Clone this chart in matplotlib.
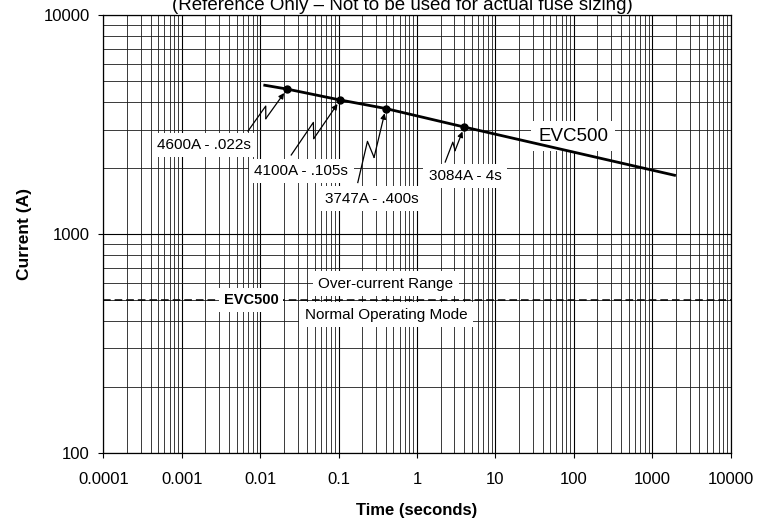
"""
EVC500 time-current curve (log-log), with labelled test points.
"""

import numpy as np
import matplotlib
matplotlib.use("Agg")
import matplotlib.pyplot as plt
from matplotlib.ticker import LogLocator, FixedLocator, FixedFormatter, NullFormatter

plt.rcParams["font.family"] = ["Liberation Sans", "DejaVu Sans"]


# ── Data ──────────────────────────────────────────────────────────────────────

curve_time = [0.011, 0.022, 0.105, 0.400, 4.0, 2000.0]
curve_amps = [4800, 4600, 4100, 3747, 3084, 1850]

point_time   = [0.022, 0.105, 0.400, 4.0]
point_amps   = [4600, 4100, 3747, 3084]
point_labels = ["4600A - .022s", "4100A - .105s", "3747A - .400s", "3084A - 4s"]

rating_amps = 500
rating_name = "EVC500"

x_ticks       = [0.0001, 0.001, 0.01, 0.1, 1, 10, 100, 1000, 10000]
x_tick_labels = ["0.0001", "0.001", "0.01", "0.1", "1", "10", "100", "1000", "10000"]
y_ticks       = [100, 1000, 10000]
y_tick_labels = ["100", "1000", "10000"]


# ── Figure / axes ─────────────────────────────────────────────────────────────

W, H = 772, 522
fig = plt.figure(figsize=(W / 100, H / 100), dpi=100)
ax = fig.add_axes([103.3 / W, 1 - 452.7 / H, 627.4 / W, 437.4 / H])

ax.set_xscale("log")
ax.set_yscale("log")
ax.set_xlim(x_ticks[0], x_ticks[-1])
ax.set_ylim(y_ticks[0], y_ticks[-1])

ax.xaxis.set_major_locator(FixedLocator(x_ticks))
ax.xaxis.set_major_formatter(FixedFormatter(x_tick_labels))
ax.yaxis.set_major_locator(FixedLocator(y_ticks))
ax.yaxis.set_major_formatter(FixedFormatter(y_tick_labels))
for axis in (ax.xaxis, ax.yaxis):
    axis.set_minor_locator(LogLocator(base=10, subs=np.arange(2, 10), numticks=100))
    axis.set_minor_formatter(NullFormatter())

ax.set_axisbelow(True)
ax.grid(which="major", color="black", linewidth=0.8)
ax.grid(which="minor", color="#1a1a1a", linewidth=0.6)

ax.tick_params(which="major", direction="out", length=3.6, width=0.8,
               labelsize=12, color="black")
ax.tick_params(which="minor", length=0)
ax.tick_params(axis="x", pad=10.5)
ax.tick_params(axis="y", pad=6)
for sp in ax.spines.values():
    sp.set_linewidth(0.9)

ax.set_xlabel("Time (seconds)", fontsize=12, fontweight="bold", va="baseline")
ax.xaxis.set_label_coords(0.5, (452.7 - 515) / 437.4)
ax.set_ylabel("Current (A)", fontsize=12.5, fontweight="bold")
ax.yaxis.set_label_coords((32 - 103.3) / 627.4, 0.5)

fig.text(402 / W, 1 - 9.5 / H,
         "(Reference Only \u2013 Not to be used for actual fuse sizing)",
         ha="center", va="baseline", fontsize=13.5)


# ── Rating line ───────────────────────────────────────────────────────────────

ax.axhline(rating_amps, color="black", linewidth=1.1, linestyle=(0, (5, 2.6)), zorder=3)

box = dict(boxstyle="square,pad=0.35", fc="white", ec="none")
yax = ax.get_yaxis_transform()
ax.text(0.2354, rating_amps, rating_name, transform=yax, ha="center", va="center",
        fontsize=10.5, fontweight="bold", bbox=box, zorder=4)
ax.annotate("Over-current Range", xy=(0.4506, rating_amps), xycoords=yax,
            xytext=(0, 16), textcoords="offset pixels", ha="center", va="center",
            fontsize=11, bbox=box, zorder=4)
ax.annotate("Normal Operating Mode", xy=(0.4506, rating_amps), xycoords=yax,
            xytext=(0, -15), textcoords="offset pixels", ha="center", va="center",
            fontsize=11, bbox=box, zorder=4)


# ── Curve and labelled points ─────────────────────────────────────────────────

ax.text(0.7487, 0.724, rating_name, transform=ax.transAxes, ha="center", va="center",
        fontsize=13.5, bbox=box, zorder=4)

ax.plot(curve_time, curve_amps, color="black", linewidth=2.0, zorder=5,
        solid_capstyle="butt")
ax.plot(point_time, point_amps, "o", color="black", markersize=5, zorder=6)

# label centres and squiggle starts, in pixels relative to each point
label_offsets = [(-83, -56), (-39, -71), (-14, -90), (1, -49)]
arrow_starts  = [(-39, -42), (-49, -55), (-28, -74), (-19, -35)]

to_data = ax.transData.inverted()

for t, a, lbl, off, st in zip(point_time, point_amps, point_labels,
                              label_offsets, arrow_starts):
    ax.annotate(lbl, xy=(t, a), xytext=off, textcoords="offset pixels",
                ha="center", va="center", fontsize=11, bbox=box, zorder=4)

    # lightning-style leader: start -> kink -> kink -> arrowhead at the point
    tip = ax.transData.transform((t, a))
    s = tip + np.array(st, dtype=float)
    d = tip - s
    L = np.hypot(*d)
    n = np.array([d[1], -d[0]]) / L
    p1 = s + 0.53 * d - 0.07 * L * n
    p2 = s + 0.37 * d + 0.08 * L * n
    pts = to_data.transform(np.vstack([s, p1, p2]))
    ax.plot(pts[:, 0], pts[:, 1], color="black", linewidth=0.9, zorder=7)
    ax.annotate("", xy=(t, a), xytext=(pts[2, 0], pts[2, 1]),
                arrowprops=dict(arrowstyle="-|>", color="black", lw=0.9,
                                shrinkA=0, shrinkB=3.5, mutation_scale=8),
                zorder=7)

fig.savefig("out.png", dpi=100)
plt.close(fig)
